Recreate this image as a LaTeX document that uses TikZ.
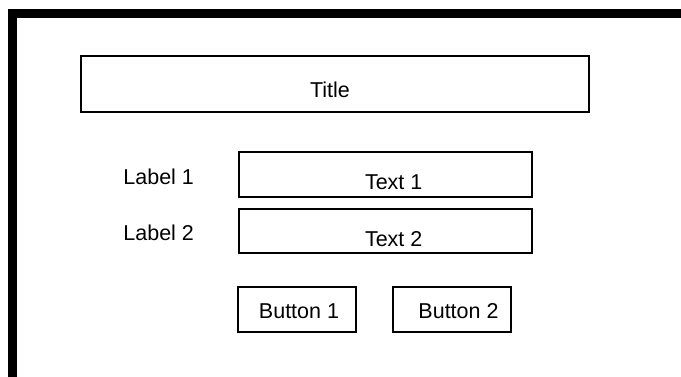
\documentclass[tikz,border=0pt]{standalone}
\usepackage{fontspec}
\setmainfont{Liberation Sans}
\begin{document}
\begin{tikzpicture}[x=1pt,y=-1pt,
  box/.style={draw=black, line width=2pt, inner sep=0pt, outer sep=0pt, rectangle},
  txt/.style={anchor=base, inner sep=0pt, font=\fontsize{21.5}{24}\selectfont}]
\useasboundingbox (0,0) rectangle (681,377);
% window frame (top and left edges)
\fill[black] (8,9.5) rectangle (681,18);
\fill[black] (8,9.5) rectangle (17,377);
% title bar
\node[box, minimum width=508pt, minimum height=56pt] (titlebox) at (335,84) {};
\node[txt] (title) at (330,98) {Title};
% labelled text fields
\node[txt] (lab1) at (158.7,185) {Label 1};
\node[box, minimum width=293pt, minimum height=45pt] (field1) at (385.5,174.5) {};
\node[txt] (t1) at (393.7,190) {Text 1};
\node[txt] (lab2) at (158.7,241) {Label 2};
\node[box, minimum width=293pt, minimum height=44pt] (field2) at (385.5,231) {};
\node[txt] (t2) at (393.7,247) {Text 2};
% buttons
\node[box, minimum width=118pt, minimum height=45pt] (btn1) at (297,309.5) {};
\node[txt] (b1) at (299,318.3) {Button 1};
\node[box, minimum width=118pt, minimum height=45pt] (btn2) at (452,309.5) {};
\node[txt] (b2) at (458.5,318.3) {Button 2};
\end{tikzpicture}
\end{document}
